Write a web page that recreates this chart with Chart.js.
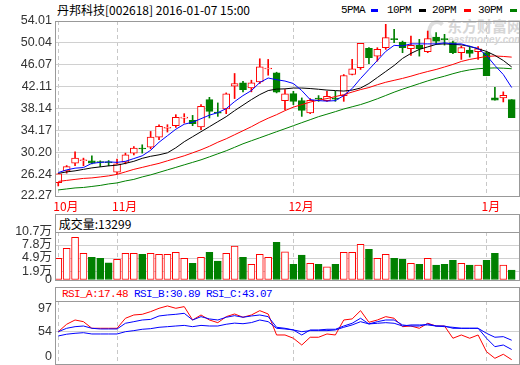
<!DOCTYPE html>
<html>
<head>
<meta charset="utf-8">
<script src="https://cdn.jsdelivr.net/npm/chart.js@4/dist/chart.umd.min.js"></script>
<style>
body{margin:0;width:520px;height:365px;background:#fff;position:relative;overflow:hidden;font-family:"Noto Sans CJK SC",sans-serif}
canvas{position:absolute;left:0}
.t{position:absolute;white-space:nowrap;line-height:14px}
.mono{font-family:"Liberation Mono",monospace;font-size:11px;letter-spacing:-0.6px}
.dash{position:absolute;top:9px;width:7px;height:3px}
.box{position:absolute;left:55px;width:463px;border:1px solid #999;border-bottom:none;background:#fff;white-space:nowrap;padding-left:0}
</style>
</head>
<body>
<div class="t" style="left:427px;top:20px;width:12px;height:16px;border:4px solid #dedede;border-right-color:transparent;border-radius:50%"></div>
<div class="t" style="left:447px;top:17px;font-size:15px;line-height:18px;font-weight:bold;color:#d6d6d6">东方财富网</div>
<div class="t" style="left:448px;top:34px;font-size:10px;line-height:12px;font-weight:bold;font-style:italic;color:#d6d6d6;font-family:'Liberation Sans'">eastmoney.com</div>

<div class="t" style="left:57px;top:3px;font-size:12px">丹邦科技[002618] 2016-01-07 15:00</div>
<div class="t mono" style="left:341px;top:3px">5PMA</div>
<div class="dash" style="left:371px;background:#0000ff"></div>
<div class="t mono" style="left:387px;top:3px">10PM</div>
<div class="dash" style="left:419px;background:#000"></div>
<div class="t mono" style="left:432px;top:3px">20PM</div>
<div class="dash" style="left:464px;background:#ff0000"></div>
<div class="t mono" style="left:478px;top:3px">30PM</div>
<div class="dash" style="left:510px;background:#008000"></div>

<div class="box" style="top:214px;height:17px;line-height:17px;font-size:12px">&nbsp;成交量:13299</div>
<div class="box mono" style="top:287px;height:13px;line-height:13px"><span style="color:#ff0000">&nbsp;RSI_A:17.48</span> <span style="color:#0000ff">RSI_B:30.89</span> <span style="color:#0000ff">RSI_C:43.07</span></div>

<canvas id="kline" width="520" height="214" style="top:0"></canvas>
<canvas id="vol" width="520" height="73" style="top:214px"></canvas>
<canvas id="rsi" width="520" height="78" style="top:287px"></canvas>

<script>
// trading days shown
var dates = ['2015-10-22','2015-10-23','2015-10-26','2015-10-27','2015-10-28','2015-10-29','2015-10-30',
  '2015-11-02','2015-11-03','2015-11-04','2015-11-05','2015-11-06','2015-11-09','2015-11-10','2015-11-11','2015-11-12','2015-11-13',
  '2015-11-16','2015-11-17','2015-11-18','2015-11-19','2015-11-20','2015-11-23','2015-11-24','2015-11-25','2015-11-26','2015-11-27','2015-11-30',
  '2015-12-01','2015-12-02','2015-12-03','2015-12-04','2015-12-07','2015-12-08','2015-12-09','2015-12-10','2015-12-11',
  '2015-12-14','2015-12-15','2015-12-16','2015-12-17','2015-12-18','2015-12-21','2015-12-22','2015-12-23','2015-12-24','2015-12-25',
  '2015-12-28','2015-12-29','2015-12-30','2015-12-31','2016-01-04','2016-01-05','2016-01-06','2016-01-07'];

var open  = [24.70,26.83,28.23,28.66,28.65,28.41,28.37,26.59,28.41,30.05,30.87,31.14,32.96,34.56,35.02,36.38,35.98,34.78,39.75,37.39,38.06,42.17,42.79,41.88,42.98,45.31,44.62,39.57,40.85,39.57,37.33,39.92,39.57,39.92,40.48,44.30,45.53,49.04,47.64,49.17,50.71,50.19,48.98,49.59,48.44,51.10,50.71,50.08,48.26,48.73,48.44,48.26,40.06,40.06,39.75];
var high  = [26.30,27.79,30.29,29.14,29.56,28.65,28.70,28.96,30.05,31.25,31.56,33.98,35.20,35.20,37.02,37.20,36.89,38.84,40.17,39.15,40.97,44.49,43.09,43.27,47.16,47.04,44.72,41.57,41.26,40.06,39.94,40.48,41.26,41.26,44.30,47.04,49.95,49.17,49.17,53.41,52.50,50.37,51.28,50.68,52.19,51.90,51.59,50.37,49.46,49.46,49.35,48.44,41.99,41.16,39.75];
var low   = [24.09,26.41,27.79,27.74,28.10,27.61,27.74,26.28,28.10,29.74,30.05,30.83,32.47,33.87,34.71,35.51,35.02,34.29,36.42,36.71,37.20,39.94,41.16,41.16,42.67,44.18,40.97,37.93,38.84,36.71,37.20,39.44,39.44,39.44,39.44,44.21,45.22,46.25,46.73,48.86,50.08,48.26,47.77,47.64,48.26,49.77,49.64,48.07,47.04,47.46,47.04,44.08,39.63,39.33,36.49];
var close = [26.28,27.61,29.14,28.74,28.23,28.34,28.30,28.10,29.74,30.96,30.79,32.96,34.89,34.64,36.53,36.46,35.38,38.53,37.62,37.30,40.79,42.67,41.57,42.79,45.71,45.38,41.08,40.79,39.44,37.81,39.63,39.84,40.35,39.84,44.12,45.34,49.95,47.35,48.86,50.99,50.64,49.17,49.59,48.98,50.81,50.37,50.64,48.26,49.17,48.13,48.98,44.08,39.63,40.54,36.49];

var ma5  = [26.52,27.01,27.32,27.43,28.19,28.37,28.46,28.37,28.56,29.06,29.56,30.56,32.02,33.20,34.38,35.29,35.66,36.29,36.93,37.39,38.11,39.39,40.48,41.39,42.85,43.67,43.36,43.12,42.67,41.39,39.75,39.57,39.48,39.57,40.48,41.76,43.58,45.22,46.85,48.49,49.59,49.49,49.86,49.86,49.86,49.86,50.04,49.86,49.86,49.40,49.04,47.77,45.94,44.30,41.94];
var ma10 = [26.37,26.64,26.83,27.10,27.37,27.55,27.74,27.86,28.19,28.56,29.10,29.47,29.74,30.10,31.01,32.11,33.02,33.93,34.84,35.75,36.66,37.75,38.75,39.75,40.66,41.39,41.66,41.70,41.85,41.85,41.76,41.63,41.48,41.39,41.30,41.48,41.85,42.67,43.76,44.85,45.94,47.22,48.13,48.86,49.31,49.77,49.86,49.77,49.68,49.40,48.95,48.49,47.77,46.85,45.67];
var ma20 = [24.91,25.10,25.28,25.46,25.55,25.73,25.92,26.19,26.64,27.10,27.46,27.83,28.19,28.65,29.10,29.56,30.10,30.65,31.29,32.02,32.65,33.38,34.11,34.84,35.66,36.38,37.02,37.75,38.39,38.84,39.30,39.66,39.94,40.30,40.66,41.12,41.57,41.94,42.45,42.90,43.25,43.60,44.00,44.45,44.85,45.22,45.67,46.13,46.67,47.04,47.31,47.58,47.67,47.58,47.46];
var ma30 = [23.37,23.55,23.73,23.82,24.00,24.19,24.46,24.64,25.00,25.28,25.73,26.10,26.55,27.01,27.46,27.92,28.37,28.83,29.37,29.92,30.47,31.10,31.74,32.29,32.83,33.38,33.93,34.47,35.02,35.57,36.11,36.66,37.11,37.57,38.05,38.45,38.85,39.35,39.90,40.50,41.10,41.65,42.15,42.65,43.15,43.60,44.00,44.45,44.85,45.15,45.35,45.45,45.50,45.45,45.35];

// volume, in 万手
var volume = [4.84,7.06,9.51,5.95,5.06,4.84,3.85,4.61,5.95,5.95,5.72,5.95,5.72,5.72,6.17,4.84,3.72,5.06,6.17,4.24,5.95,7.57,5.06,3.50,5.72,5.06,8.40,6.30,3.50,5.57,3.72,3.50,2.96,3.50,6.17,6.17,7.96,6.85,4.84,5.72,4.84,4.61,3.72,3.50,4.84,3.34,3.50,4.39,3.72,3.34,3.34,4.39,5.95,3.34,2.23];

var rsiA = [54.3,64.1,69.7,67.5,58.8,58.8,58.8,58.8,72.0,76.3,77.2,80.7,85.1,88.2,85.1,87.3,69.7,76.3,69.7,66.2,74.1,77.6,73.3,76.3,82.0,77.6,50.0,50.0,45.7,36.8,47.0,47.0,51.3,50.0,69.7,71.1,82.0,66.7,69.7,74.1,72.0,60.9,61.8,58.8,65.4,61.8,61.8,45.7,50.0,45.7,50.0,28.0,19.3,24.6,17.48];
var rsiB = [54.3,58.8,60.9,61.8,58.8,57.9,57.9,57.9,65.4,67.5,69.7,70.5,75.0,76.3,77.2,78.5,69.7,74.1,71.1,69.7,73.3,75.4,73.3,75.0,76.3,74.1,60.1,58.8,56.6,50.0,56.6,56.6,57.5,57.5,61.8,65.4,72.0,64.5,67.5,69.7,69.7,63.2,61.8,61.8,64.5,61.8,61.8,58.8,58.8,58.8,58.8,45.7,34.6,36.8,30.89];
var rsiC = [48.7,51.0,52.2,53.0,51.3,51.3,51.3,51.3,54.3,55.7,57.5,58.3,60.1,60.9,61.8,62.6,60.9,62.6,61.8,61.8,64.1,65.6,64.8,66.3,69.7,67.5,58.8,57.9,56.6,54.3,55.7,55.7,55.7,56.6,60.1,63.2,67.5,64.5,65.4,66.2,65.4,61.8,63.2,63.2,63.2,61.8,60.9,60.1,58.8,58.8,58.8,52.2,47.0,47.8,43.07];

var monthLabels = ['10月','11月','12月','1月'];
var priceTicks = [54.01,50.04,46.07,42.11,38.14,34.17,30.20,26.24,22.27];
var volTicks = [10.7,7.8,4.9,1.9,0];
var volTickLabels = ['10.7万','7.8万','4.9万','1.9万','0'];
var rsiTickLabels = ['97','54','0'];

var RED = '#ff0000', GREEN = '#008000', BLUE = '#0000ff';
var idx = dates.map(function(d, i){ return i; });
var up = idx.map(function(i){ return close[i] >= open[i]; });
// first trading day of every month
var monthIdx = idx.filter(function(i){ return i == 0 || dates[i].slice(5,7) != dates[i-1].slice(5,7); });

Chart.defaults.animation = false;
Chart.defaults.events = [];
Chart.defaults.plugins.legend.display = false;
Chart.defaults.plugins.tooltip.enabled = false;

var frame = {
	id: 'frame',
	afterDraw: function(c) {
		var a = c.chartArea, g = c.ctx;
		g.save();
		g.strokeStyle = '#999';
		g.lineWidth = 1;
		g.strokeRect(a.left - 0.5, a.top + 0.5, a.right - a.left + 1, a.bottom - a.top);
		g.restore();
	}
};

function xAxis(showLabels, h) {
	return {
		type: 'linear', min: -0.27, max: 54.87, offset: false,
		afterBuildTicks: function(s){ s.ticks = monthIdx.map(function(v){ return {value: v}; }); },
		afterFit: function(s){ s.height = h; s.paddingLeft = 0; s.paddingRight = 0; },
		grid: {color: '#c8c8c8', drawTicks: false, offset: false},
		border: {display: false, dash: [4, 3]},
		ticks: {
			display: showLabels, autoSkip: false, maxRotation: 0, align: 'start', labelOffset: -5, padding: 3,
			color: RED, font: {family: '"Noto Sans CJK SC"', size: 12},
			callback: function(v){ return monthLabels[monthIdx.indexOf(v)]; }
		}
	};
}

function yAxis(min, max, tickFn, labelFn, gridColor) {
	return {
		min: min, max: max,
		afterBuildTicks: tickFn,
		afterFit: function(s){ s.width = 56; s.paddingTop = 0; s.paddingBottom = 0; },
		grid: {color: gridColor, drawTicks: false},
		border: {display: false},
		ticks: {padding: 4, autoSkip: false, color: '#333', font: {family: '"Liberation Sans", "Noto Sans CJK SC"', size: 12.5}, callback: labelFn}
	};
}

function line(values, color) {
	return {
		type: 'line', order: 0,
		data: idx.map(function(i){ return {x: i, y: values[i]}; }),
		borderColor: color, borderWidth: 1, pointRadius: 0, tension: 0
	};
}

new Chart(document.getElementById('kline'), {
	type: 'bar',
	data: {
		datasets: [
			line(ma5, BLUE),
			line(ma10, '#000000'),
			line(ma20, RED),
			line(ma30, GREEN),
			{
				order: 1, grouped: false, barThickness: 7, minBarLength: 1,
				data: idx.map(function(i){ return {x: i, y: [open[i], close[i]]}; }),
				backgroundColor: idx.map(function(i){ return up[i] ? '#ffffff' : GREEN; }),
				borderColor: idx.map(function(i){ return up[i] ? RED : GREEN; }),
				borderWidth: 1, borderSkipped: false
			},
			{
				order: 2, grouped: false, barThickness: 1,
				data: idx.map(function(i){ return {x: i, y: [low[i], high[i]]}; }),
				backgroundColor: idx.map(function(i){ return up[i] ? RED : GREEN; })
			}
		]
	},
	options: {
		responsive: false, devicePixelRatio: 1,
		layout: {padding: {top: 21, right: 1, left: 0, bottom: 0}},
		scales: {
			x: xAxis(true, 18),
			y: yAxis(22.27, 54.01,
				function(s){ s.ticks = priceTicks.map(function(v){ return {value: v}; }); },
				function(v){ return v.toFixed(2); }, '#d0d0d0')
		}
	},
	plugins: [frame]
});

new Chart(document.getElementById('vol'), {
	type: 'bar',
	data: {
		datasets: [{
			grouped: false, barThickness: 7,
			data: idx.map(function(i){ return {x: i, y: volume[i]}; }),
			backgroundColor: idx.map(function(i){ return up[i] ? '#ffffff' : GREEN; }),
			borderColor: idx.map(function(i){ return up[i] ? RED : GREEN; }),
			borderWidth: 1, borderSkipped: false
		}]
	},
	options: {
		responsive: false, devicePixelRatio: 1,
		layout: {padding: {top: 18, right: 1, left: 0, bottom: 7}},
		scales: {
			x: xAxis(false, 0),
			y: yAxis(0, 10.7,
				function(s){ s.ticks = volTicks.map(function(v){ return {value: v}; }); },
				function(v){ return volTickLabels[volTicks.indexOf(v)]; }, '#d0d0d0')
		}
	},
	plugins: [frame]
});

new Chart(document.getElementById('rsi'), {
	type: 'line',
	data: {
		datasets: [line(rsiC, BLUE), line(rsiB, BLUE), line(rsiA, RED)]
	},
	options: {
		responsive: false, devicePixelRatio: 1,
		layout: {padding: {top: 14, right: 1, left: 0, bottom: 1}},
		scales: {
			x: xAxis(false, 0),
			y: yAxis(11.8, 94.7,
				// labels sit a little inside the panel, as in the original
				function(s){ s.ticks = [{value: s.max - 10}, {value: 54}, {value: s.min + 10}]; },
				function(v, i){ return rsiTickLabels[i]; },
				function(c){ return c.tick && c.tick.value === 54 ? '#d0d0d0' : 'rgba(0,0,0,0)'; })
		}
	},
	plugins: [frame]
});
</script>
</body>
</html>
